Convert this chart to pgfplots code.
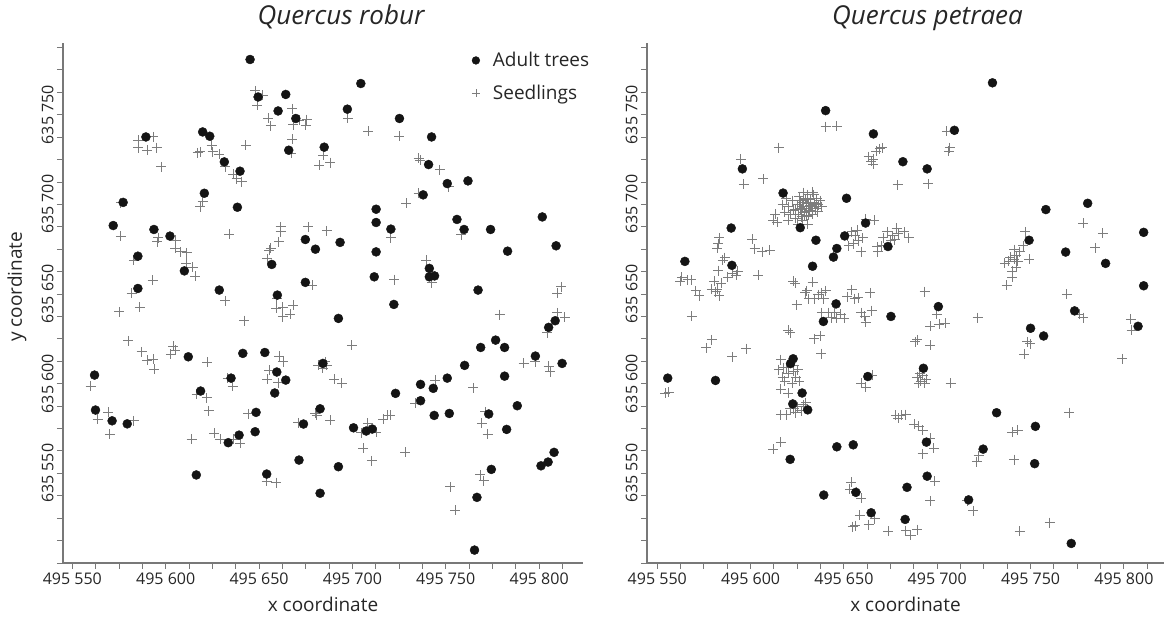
\documentclass[border=0pt]{standalone}
\usepackage{fontspec}
\setmainfont{Open Sans}
\usepackage{pgfplots}
\pgfplotsset{compat=1.18}
\definecolor{axgray}{RGB}{120,120,120}
\definecolor{seedgray}{RGB}{125,125,125}
\definecolor{adultblack}{RGB}{20,20,20}
\pgfplotsset{
  panel/.style={
    scale only axis, anchor=south west, height=520pt,
    ymin=0, ymax=290,
    axis x line*=bottom, axis y line*=left,
    axis line style={axgray, line width=1.2pt},
    tick align=outside,
    tick style={axgray, line width=0.9pt},
    major tick length=6pt, minor tick length=6pt,
    xtick={50,100,150,200,250,300},
    xticklabels={495 550,495 600,495 650,495 700,495 750,495 800},
    minor xtick={50,62.5,...,312.5},
    ytick={50,100,150,200,250},
    yticklabels={635 550,635 600,635 650,635 700,635 750},
    minor ytick={0,12.5,...,287.5},
    tick label style={font=\fontsize{16}{18}\selectfont, text=black!85},
    yticklabel style={rotate=90, anchor=south},
    label style={font=\fontsize{19}{22}\selectfont, text=black!85},
    xlabel={x coordinate},
    xlabel style={yshift=-6pt},
    title style={font=\fontsize{26}{30}\selectfont\itshape, text=black!85, at={(0.5,1)}, anchor=base, yshift=12pt},
  },
  seed/.style={only marks, mark=+, mark size=5pt, seedgray, line width=1pt},
  adult/.style={only marks, mark=*, mark size=4.5pt, adultblack, mark options={fill=adultblack}},
}
\begin{document}
\begin{tikzpicture}
\useasboundingbox (0,0) rectangle (1165pt,618pt);
\begin{axis}[panel, at={(63pt,55pt)}, width=520pt, xmin=45, xmax=323.5,
  title={Quercus robur}, title style={xshift=18pt}, ylabel={y coordinate},
  ylabel style={at={(axis description cs:-0.0885,0.531)}, anchor=center},
  legend style={at={(0.786,0.986)}, anchor=north west, draw=none, fill=none, inner sep=0pt,
    row sep=13pt, column sep=11pt, font=\fontsize{19}{22}\selectfont, text=black!85},
  legend cell align=left]
\addplot[seed, forget plot] table {
147.9 263.3
152.0 260.9
149.1 255.3
155.0 247.9
156.3 243.8
167.9 253.2
168.4 244.5
171.6 246.9
175.6 247.3
175.0 244.1
167.9 236.2
167.2 228.4
182.3 221.8
85.3 235.8
93.3 237.6
85.3 231.7
90.1 230.2
95.1 231.7
97.5 220.9
117.1 228.7
118.4 229.3
124.6 233.0
125.2 229.3
128.7 228.0
131.8 220.9
136.2 216.8
140.7 212.5
138.0 214.4
142.9 233.0
118.4 198.6
119.8 201.4
76.0 200.8
76.0 182.3
96.0 181.5
95.5 179.1
105.5 180.0
105.0 175.4
108.0 173.5
111.2 173.0
110.9 167.1
114.5 164.8
115.7 160.0
83.0 168.9
93.0 157.7
81.7 150.3
86.2 142.5
75.1 140.1
134.1 183.4
131.8 146.2
161.6 187.5
161.6 184.7
176.4 187.5
160.6 179.1
156.3 175.4
155.5 174.5
154.5 169.8
178.6 155.0
159.5 147.5
159.1 142.0
162.7 142.5
168.4 143.8
166.6 138.8
197.6 247.9
208.6 240.8
225.2 238.0
184.5 227.4
188.1 223.3
235.4 225.6
236.3 224.6
246.7 219.4
251.5 209.8
235.4 206.1
228.8 200.5
220.6 181.5
258.2 183.2
186.3 185.2
239.5 168.9
242.6 156.2
222.4 158.1
311.8 154.0
309.6 150.3
142.0 135.1
162.7 137.3
79.9 123.9
87.1 117.8
90.1 113.2
93.3 113.5
93.9 108.0
104.0 121.0
105.0 118.7
102.8 116.3
122.3 111.9
59.8 98.7
69.2 84.0
63.5 80.3
70.1 71.7
83.0 79.2
116.6 94.2
122.0 92.1
123.0 84.9
113.9 68.9
126.0 72.3
129.1 68.9
136.2 68.9
139.8 66.7
133.2 103.0
135.9 98.7
144.3 83.1
160.9 115.4
163.0 112.2
155.5 107.6
154.5 102.6
160.4 100.5
171.1 78.2
180.0 83.4
180.9 82.5
154.1 45.7
159.1 44.8
278.8 138.5
309.6 139.5
313.7 137.0
304.3 128.4
199.7 121.5
181.8 110.4
185.4 112.2
184.2 108.5
186.3 110.4
190.2 102.6
194.3 100.2
188.1 79.7
204.7 72.6
208.3 77.9
212.7 72.9
205.9 63.9
210.4 57.0
216.6 80.1
218.8 82.5
220.2 82.5
228.3 61.7
233.6 89.0
244.4 102.0
252.4 42.5
255.1 29.5
264.6 97.7
269.4 77.9
272.4 71.7
271.2 84.3
268.5 49.1
270.3 45.9
291.7 111.3
298.0 112.2
305.1 109.8
306.0 106.6
};
\addplot[adult, forget plot] table {
145.2 280.8
149.5 259.9
164.3 261.3
160.2 252.1
169.7 247.9
89.4 237.6
119.8 240.4
123.6 238.0
165.9 230.2
131.4 223.7
139.8 218.5
120.7 206.2
77.2 201.1
138.4 198.4
71.9 188.2
93.7 186.0
102.3 182.3
174.8 180.4
180.2 175.0
85.1 171.1
156.8 166.5
110.0 162.9
174.8 156.5
85.1 153.1
128.7 152.2
159.8 149.4
204.5 267.4
197.3 253.1
225.2 247.9
242.4 237.6
184.9 231.9
240.8 222.2
250.8 211.6
261.9 213.1
237.9 205.3
212.7 197.3
212.7 189.9
220.6 186.2
256.0 191.6
259.8 186.0
274.0 186.0
301.7 193.0
309.1 176.9
193.4 178.8
212.7 173.5
283.1 173.9
241.2 164.3
241.2 159.6
244.0 160.1
211.7 159.6
222.2 144.2
267.3 152.2
61.9 104.8
62.4 85.3
71.3 79.3
79.4 77.6
112.1 115.0
118.7 95.9
116.4 49.1
141.3 116.9
153.1 117.4
135.0 103.1
159.5 106.5
164.3 102.0
158.4 94.8
148.4 84.0
147.9 73.2
139.3 71.3
133.5 67.1
173.8 77.5
171.4 57.4
154.1 49.6
192.5 136.4
184.2 111.3
182.7 86.0
200.6 75.4
207.4 73.6
210.6 74.7
223.1 94.6
192.5 53.7
182.7 38.9
236.5 99.6
236.5 90.5
243.3 97.4
243.8 82.3
250.8 103.1
251.9 83.4
260.1 110.2
268.7 120.2
276.7 124.3
281.5 120.2
281.5 104.2
273.0 83.1
282.6 74.5
288.3 87.7
298.0 115.4
305.1 131.4
308.6 135.1
312.3 111.3
274.4 52.2
266.7 36.6
265.4 7.2
301.0 54.2
304.8 56.3
308.0 61.7
};
\addlegendimage{adult, mark size=3.9pt}
\addlegendentry{Adult trees}
\addlegendimage{seed, mark size=4pt, line width=0.8pt}
\addlegendentry{Seedlings}
\end{axis}
\begin{axis}[panel, at={(647pt,55pt)}, width=517pt, xmin=44.5, xmax=321.5,
  title={Quercus petraea}, title style={xshift=22pt}]
\addplot[seed] table {
140.2 243.3
146.2 243.7
115.2 231.7
94.8 225.1
96.4 211.3
106.8 214.2
178.8 210.9
195.2 211.5
205.2 240.9
206.8 231.7
206.2 229.5
163.2 226.6
164.6 224.0
165.8 225.1
167.2 229.5
169.2 231.0
170.6 231.5
165.6 222.3
117.2 199.9
118.2 195.5
120.2 198.8
121.2 194.4
122.2 202.1
123.2 196.6
124.2 192.2
125.2 199.9
125.8 194.4
126.2 204.3
127.2 197.7
127.8 191.2
128.2 201.0
128.8 195.5
129.2 203.2
129.8 198.8
130.2 193.3
130.6 205.4
131.2 201.0
131.8 196.6
132.2 203.2
132.6 198.8
133.2 194.4
133.8 205.4
134.2 201.0
134.8 197.7
135.4 203.2
136.2 199.9
137.2 202.1
138.2 198.8
130.6 189.0
125.2 189.0
120.2 191.2
113.2 194.4
112.2 191.2
114.2 190.1
119.2 203.2
128.2 206.5
133.2 206.9
126.0 200.0
128.0 199.0
130.0 200.5
132.0 199.5
127.0 197.0
129.0 196.0
131.0 197.5
133.0 196.0
126.5 202.0
128.5 202.5
130.5 202.8
134.0 200.0
135.5 200.5
124.0 197.0
129.0 193.5
131.0 194.0
127.5 193.0
136.0 196.0
161.8 191.6
166.2 191.2
154.2 184.6
156.2 182.4
157.8 179.8
160.2 181.3
155.2 178.0
159.2 173.6
152.6 176.9
157.2 185.7
151.8 182.4
170.2 176.9
168.2 173.6
167.8 176.3
171.2 181.3
173.2 184.6
176.2 182.4
175.2 179.8
178.2 186.8
179.2 183.5
182.2 184.6
184.8 181.3
177.2 180.2
100.8 180.6
102.2 175.2
106.2 173.6
110.2 174.3
83.2 181.3
82.6 178.0
82.2 175.4
86.2 170.3
85.2 168.8
104.2 160.5
82.6 163.1
80.6 157.2
82.2 152.8
81.2 151.3
84.2 156.1
87.8 159.4
90.2 161.6
92.2 160.5
93.2 162.7
79.2 152.8
83.2 149.1
63.2 159.4
62.2 157.2
66.2 157.9
68.2 157.9
70.6 151.7
72.6 149.1
68.6 137.7
76.2 120.0
79.2 124.4
90.2 115.0
97.6 119.6
122.8 157.2
123.8 156.1
133.2 156.6
129.2 150.6
131.2 147.4
134.2 147.4
136.2 149.6
138.2 150.6
140.2 151.7
130.2 151.7
139.2 147.4
124.6 143.9
141.8 139.7
145.2 139.7
148.2 138.6
150.2 136.4
146.2 136.4
143.2 136.8
138.2 139.7
154.2 152.4
155.8 147.4
151.8 148.5
157.8 147.8
164.2 150.6
159.2 139.7
161.2 137.5
161.6 134.2
164.8 140.8
193.2 151.3
199.8 138.6
201.2 133.1
204.2 133.8
196.2 132.0
189.2 124.4
188.2 123.3
196.2 121.5
221.6 136.8
120.2 129.8
121.2 128.3
134.2 125.0
137.2 126.6
137.8 116.7
237.2 155.0
240.2 159.4
241.2 169.3
239.2 170.4
242.2 171.4
244.2 173.6
246.2 176.9
247.2 184.6
238.2 168.2
236.2 167.1
240.2 162.7
242.2 164.9
249.2 169.3
241.2 174.7
243.2 168.2
278.2 189.4
288.8 183.9
284.6 175.8
269.4 150.0
276.2 138.6
278.2 136.8
303.8 136.0
304.2 129.8
299.2 113.9
248.2 123.3
249.8 122.2
246.6 116.3
270.6 83.8
240.2 72.9
243.2 74.0
241.2 57.6
222.2 59.8
221.2 56.5
216.2 34.6
219.2 29.1
244.2 17.7
260.2 22.5
189.2 103.6
190.6 105.7
192.2 104.7
191.2 101.4
193.2 100.3
194.2 102.5
190.2 100.3
207.2 100.3
159.2 100.3
161.8 98.1
165.2 104.7
177.8 82.3
180.6 82.3
183.2 82.7
179.2 80.6
187.8 77.3
190.2 76.2
192.2 74.0
196.2 69.6
198.2 64.1
192.2 60.9
198.6 45.5
196.2 34.6
153.8 44.9
153.2 41.1
156.6 39.6
159.2 36.1
158.6 26.5
163.2 21.4
166.6 24.7
156.2 20.8
154.8 20.3
173.8 17.7
183.2 18.1
185.8 15.5
189.2 18.6
116.2 113.4
119.2 109.0
117.2 103.6
120.2 105.7
123.2 106.8
124.2 103.6
126.2 101.4
122.2 100.3
118.2 101.4
116.2 97.0
125.2 107.9
123.2 110.1
120.2 94.8
115.2 107.9
117.8 109.0
123.2 86.0
125.2 87.1
127.2 85.0
128.2 88.2
129.6 89.3
121.2 86.0
119.2 82.8
116.2 82.8
124.2 83.8
112.2 63.5
116.2 67.4
54.2 94.8
56.2 95.2
};
\addplot[adult] table {
229.6 267.8
140.2 252.3
165.8 239.3
209.2 241.3
181.6 223.8
194.6 219.8
95.6 219.8
117.4 206.3
151.4 203.4
258.2 197.1
280.6 200.6
89.6 186.8
126.6 187.0
161.6 189.6
310.6 184.4
135.0 180.0
150.4 182.4
249.2 180.0
146.2 175.4
173.6 176.5
268.8 173.4
64.8 168.2
90.0 166.0
144.4 170.6
133.2 165.5
290.2 167.1
310.6 154.6
145.8 144.5
200.6 143.0
139.0 134.7
175.2 137.5
273.6 140.6
307.6 132.0
250.0 130.9
257.0 126.6
121.4 111.2
122.8 113.9
192.6 108.6
55.6 103.1
81.2 101.8
162.8 104.0
127.6 94.8
122.6 88.7
130.6 85.4
231.8 83.8
252.6 76.2
146.2 64.8
155.0 65.9
194.2 67.4
224.6 63.5
121.2 57.8
252.2 55.4
194.6 48.4
183.8 42.2
139.2 37.9
156.4 39.4
216.8 35.2
164.6 28.0
182.8 24.3
271.8 10.9
};
\end{axis}
\end{tikzpicture}
\end{document}
